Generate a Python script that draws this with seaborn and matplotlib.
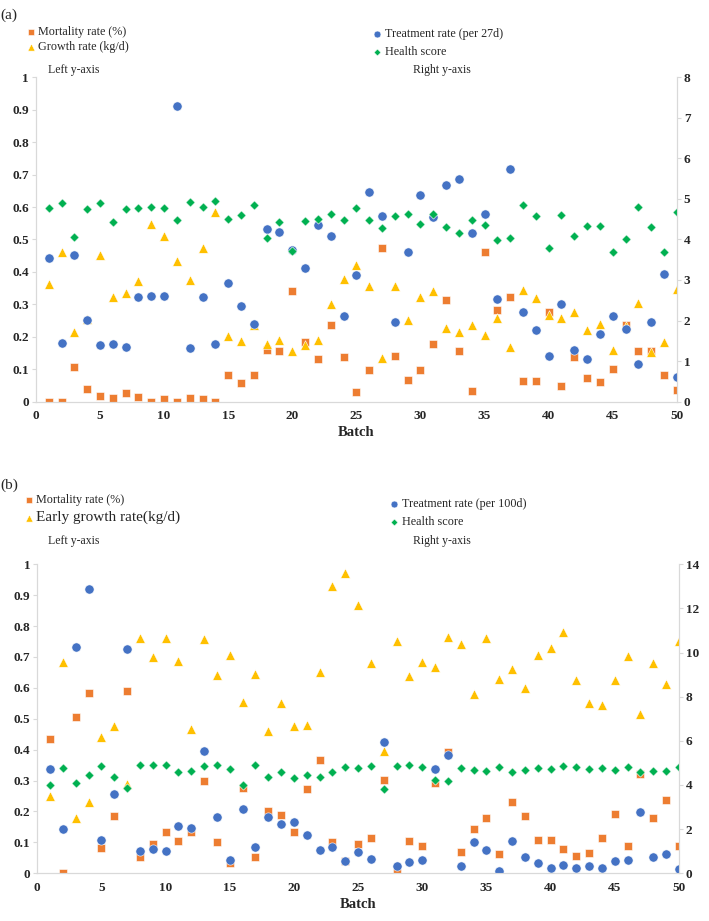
import numpy as np
import matplotlib
matplotlib.use("Agg")
import matplotlib.pyplot as plt
import seaborn as sns

batch = list(range(1, 51))

# (a) left axis
mort_a = [0, 0, 0.106, 0.040, 0.018, 0.010, 0.025, 0.015, 0, 0.009,
          0, 0.012, 0.009, 0, 0.083, 0.056, 0.081, 0.159, 0.157, 0.341,
          0.184, 0.131, 0.237, 0.138, 0.028, 0.098, 0.473, 0.142, 0.068, 0.097,
          0.177, 0.314, 0.157, 0.033, 0.462, 0.283, 0.324, 0.062, 0.064, 0.277,
          0.049, 0.138, 0.073, 0.060, 0.099, 0.235, 0.157, 0.156, 0.082, 0.035]
growth_a = [0.364, 0.460, 0.215, 0.255, 0.452, 0.321, 0.334, 0.372, 0.548, 0.512,
            0.434, 0.374, 0.473, 0.584, 0.203, 0.187, 0.237, 0.177, 0.190, 0.156,
            0.173, 0.190, 0.302, 0.377, 0.421, 0.355, 0.134, 0.355, 0.253, 0.322,
            0.342, 0.226, 0.215, 0.236, 0.204, 0.258, 0.169, 0.343, 0.318, 0.268,
            0.259, 0.276, 0.220, 0.238, 0.159, 0.232, 0.304, 0.154, 0.183, 0.348]
# (a) right axis
treat_a = [3.54, 1.45, 3.62, 2.02, 1.40, 1.43, 1.34, 2.57, 2.60, 2.60,
           7.29, 1.32, 2.59, 1.43, 2.93, 2.35, 1.92, 4.26, 4.18, 3.73,
           3.30, 4.35, 4.08, 2.11, 3.12, 5.18, 4.58, 1.96, 3.68, 5.10,
           4.55, 5.34, 5.50, 4.17, 4.62, 2.52, 5.75, 2.21, 1.77, 1.13,
           2.40, 1.28, 1.05, 1.67, 2.10, 1.79, 0.92, 1.96, 3.15, 0.60]
health_a = [4.77, 4.89, 4.07, 4.76, 4.89, 4.42, 4.74, 4.78, 4.79, 4.78,
            4.48, 4.92, 4.80, 4.94, 4.50, 4.60, 4.85, 4.03, 4.44, 3.72,
            4.45, 4.50, 4.63, 4.49, 4.77, 4.48, 4.29, 4.58, 4.63, 4.37,
            4.64, 4.31, 4.16, 4.49, 4.35, 3.98, 4.04, 4.86, 4.59, 3.80,
            4.60, 4.08, 4.33, 4.33, 3.69, 4.01, 4.80, 4.31, 3.70, 4.67]

# (b) left axis
mort_b = [0.434, 0.0, 0.507, 0.584, 0.081, 0.184, 0.590, 0.053, 0.094, 0.133,
          0.105, 0.133, 0.298, 0.100, 0.032, 0.277, 0.053, 0.201, 0.189, 0.133,
          0.273, 0.366, 0.102, 0.039, 0.094, 0.113, 0.301, 0.0, 0.104, 0.087,
          0.291, 0.392, 0.068, 0.142, 0.178, 0.063, 0.231, 0.186, 0.108, 0.108,
          0.078, 0.057, 0.066, 0.113, 0.193, 0.087, 0.320, 0.178, 0.238, 0.087]
growth_b = [0.250, 0.684, 0.178, 0.230, 0.440, 0.476, 0.288, 0.762, 0.701, 0.760,
            0.688, 0.466, 0.757, 0.640, 0.707, 0.553, 0.644, 0.459, 0.551, 0.475,
            0.480, 0.652, 0.928, 0.971, 0.868, 0.680, 0.396, 0.750, 0.638, 0.682,
            0.668, 0.763, 0.742, 0.581, 0.760, 0.627, 0.660, 0.600, 0.705, 0.728,
            0.780, 0.624, 0.550, 0.543, 0.626, 0.704, 0.516, 0.681, 0.613, 0.752]
# (b) right axis
treat_b = [4.74, 1.99, 10.25, 12.89, 1.51, 3.59, 10.17, 1.01, 1.11, 1.00,
           2.16, 2.07, 5.52, 2.55, 0.62, 2.92, 1.19, 2.54, 2.23, 2.34,
           1.73, 1.06, 1.21, 0.54, 0.96, 0.66, 5.93, 0.33, 0.50, 0.60,
           4.74, 5.36, 0.34, 1.43, 1.06, 0.12, 1.48, 0.72, 0.48, 0.24,
           0.39, 0.22, 0.32, 0.23, 0.56, 0.60, 2.76, 0.72, 0.86, 0.19]
health_b = [4.01, 4.78, 4.09, 4.44, 4.87, 4.36, 3.86, 4.90, 4.90, 4.92,
            4.60, 4.62, 4.86, 4.90, 4.74, 3.99, 4.92, 4.36, 4.59, 4.33,
            4.45, 4.36, 4.60, 4.83, 4.78, 4.87, 3.82, 4.87, 4.89, 4.83,
            4.23, 4.17, 4.78, 4.70, 4.63, 4.83, 4.59, 4.66, 4.78, 4.74,
            4.84, 4.80, 4.74, 4.78, 4.66, 4.83, 4.59, 4.62, 4.62, 4.83]

sns.set_theme(style="white")
plt.rcParams['font.family'] = ['Liberation Serif', 'DejaVu Serif']

c_mort = '#ED7D31'
c_grow = '#FFC000'
c_treat = '#4472C4'
c_health = '#00B050'
grey = '#D9D9D9'

fig = plt.figure(figsize=(7.09, 9.21), dpi=100)


def panel(rect, mort, growth, treat, health, rmax, rstep, labels, tag, tag_y,
          leg_pos, side_y, big_second=False):
    ax = fig.add_axes(rect)
    ax2 = ax.twinx()
    kw = dict(edgecolor='white', linewidth=0.4, legend=False)
    sns.scatterplot(x=batch, y=mort, ax=ax, marker='s', s=36, color=c_mort, label=labels[0], **kw)
    sns.scatterplot(x=batch, y=growth, ax=ax, marker='^', s=48, color=c_grow, label=labels[1], **kw)
    sns.scatterplot(x=batch, y=treat, ax=ax2, marker='o', s=44, color=c_treat, label=labels[2], **kw)
    sns.scatterplot(x=batch, y=health, ax=ax2, marker='D', s=22, color=c_health, label=labels[3], **kw)

    ax.set_xlim(0, 50)
    ax.set_ylim(0, 1)
    ax2.set_ylim(0, rmax)
    ax.set_xticks(range(0, 51, 5))
    ax.set_yticks(np.arange(0, 1.01, 0.1))
    ax.set_yticklabels(['0'] + ['%.1f' % v for v in np.arange(0.1, 0.95, 0.1)] + ['1'])
    ax2.set_yticks(range(0, rmax + 1, rstep))
    for a in (ax, ax2):
        for sp in a.spines.values():
            sp.set_color(grey)
            sp.set_linewidth(0.8)
        a.spines['top'].set_visible(False)
        a.tick_params(length=3, width=0.8, color=grey, pad=2, labelsize=9.5)
        for t in a.get_xticklabels() + a.get_yticklabels():
            t.set_fontweight('bold')
        a.grid(False)
    ax.tick_params(axis='x', pad=3)
    ax.set_xlabel('Batch', fontsize=10.5, fontweight='bold', labelpad=3)
    ax.set_ylabel('')
    ax2.set_ylabel('')

    fig.text(0.001, tag_y, tag, fontsize=11, va='center', ha='left')
    fig.text(0.068, side_y, 'Left y-axis', fontsize=8.5, va='center')
    fig.text(0.582, side_y, 'Right y-axis', fontsize=8.5, va='center')

    h1, l1 = ax.get_legend_handles_labels()
    h2, l2 = ax2.get_legend_handles_labels()
    leg1 = ax.legend(h1, l1, loc='upper left', bbox_to_anchor=(leg_pos[0], leg_pos[1]),
                     bbox_transform=fig.transFigure, frameon=False, fontsize=8.7,
                     handlelength=0.6, handletextpad=0.3, labelspacing=leg_pos[4],
                     borderpad=0, borderaxespad=0, markerscale=0.75)
    if big_second:
        leg1.get_texts()[1].set_fontsize(11)
    ax2.legend(h2, l2, loc='upper left', bbox_to_anchor=(leg_pos[2], leg_pos[3]),
               bbox_transform=fig.transFigure, frameon=False, fontsize=8.7,
               handlelength=0.6, handletextpad=0.3, labelspacing=0.5,
               borderpad=0, borderaxespad=0, markerscale=0.75)
    return ax, ax2


panel([0.0506, 0.564, 0.904, 0.352], mort_a, growth_a, treat_a, health_a, 8, 1,
      ['Mortality rate (%)', 'Growth rate (kg/d)', 'Treatment rate (per 27d)', 'Health score'],
      '(a)', 1 - 15 / 921, (0.038, 1 - 26 / 921, 0.527, 1 - 28 / 921, 0.25), 1 - 70 / 921)

panel([0.0525, 0.0518, 0.905, 0.3356], mort_b, growth_b, treat_b, health_b, 14, 2,
      ['Mortality rate (%)', 'Early growth rate(kg/d)', 'Treatment rate (per 100d)', 'Health score'],
      '(b)', 1 - 485 / 921, (0.036, 1 - 494 / 921, 0.551, 1 - 498 / 921, 0.4), 1 - 541 / 921,
      big_second=True)

plt.savefig('out.png', dpi=100)
